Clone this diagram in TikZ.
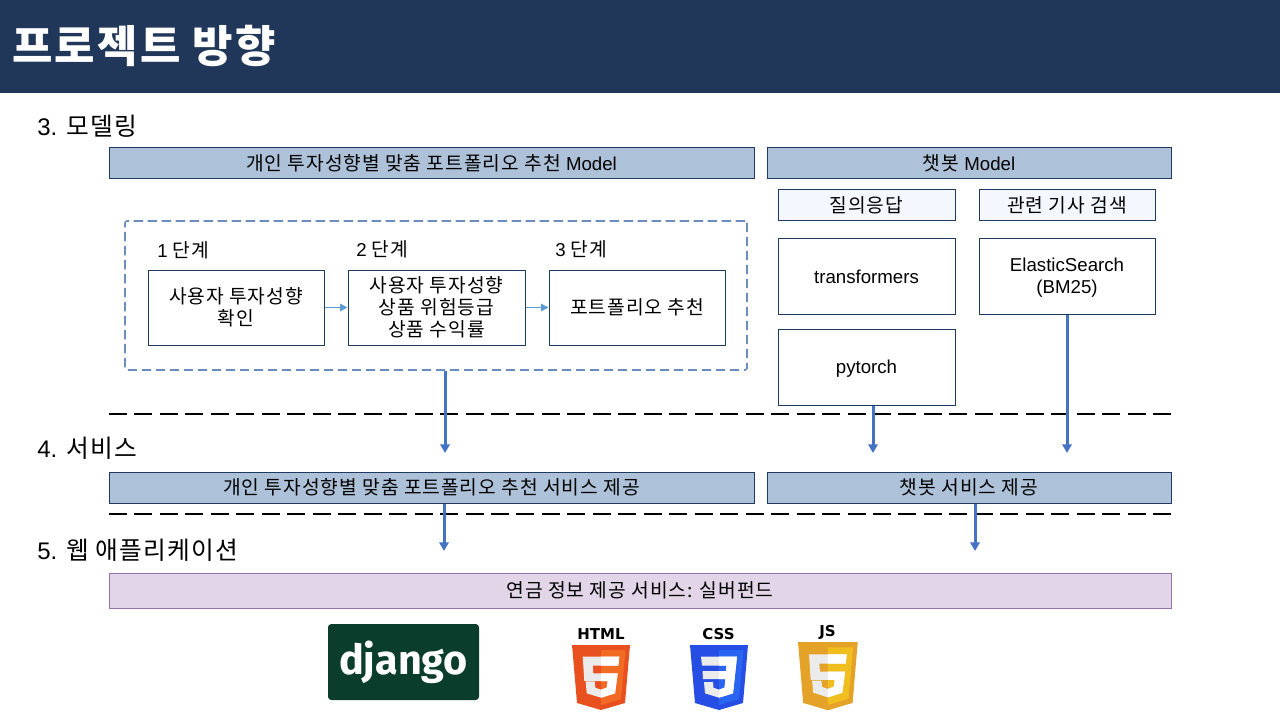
\documentclass[tikz,border=0pt]{standalone}
\usepackage{fontspec}
\usetikzlibrary{arrows.meta}
\setmainfont{Noto Sans CJK KR}[Scale=1.03,LetterSpace=5]
\newfontfamily\la{Liberation Sans}
\newfontfamily\logofont{Fira Sans}
\newfontfamily\tagfont{DejaVu Sans}
\definecolor{headbg}{HTML}{203759}
\definecolor{barbg}{HTML}{ADC2D9}
\definecolor{lineblue}{HTML}{1F3A5F}
\definecolor{arrowblue}{HTML}{4472C4}
\definecolor{thinblue}{HTML}{5B9BD5}
\definecolor{dashblue}{HTML}{6C8EBF}
\definecolor{palebg}{HTML}{F4F7FD}
\definecolor{purplebg}{HTML}{E1D5E7}
\definecolor{purpleln}{HTML}{9673A6}
\definecolor{djangobg}{HTML}{0A3D2B}
\definecolor{htmldark}{HTML}{E8511F}
\definecolor{htmllight}{HTML}{F26B24}
\definecolor{cssdark}{HTML}{264DE4}
\definecolor{csslight}{HTML}{2965F1}
\definecolor{jsdark}{HTML}{E5A228}
\definecolor{jslight}{HTML}{F0BF1F}
\tikzset{
  x=0.75pt,y=-0.75pt,
  txt/.style={font=\fontsize{14}{16.5}\selectfont,align=center,text=black,inner sep=0pt},
  sect/.style={font=\fontsize{18}{20}\selectfont,anchor=west,inner sep=0pt,text=black},
  bar/.style={txt,draw=lineblue,line width=0.75pt,fill=barbg},
  palebox/.style={txt,draw=lineblue,line width=0.75pt,fill=palebg},
  whitebox/.style={txt,draw=lineblue,line width=0.75pt,fill=white},
  purplebar/.style={txt,draw=purpleln,line width=0.75pt,fill=purplebg},
  dashedframe/.style={draw=dashblue,line width=1.2pt,dash pattern=on 7pt off 3.5pt,rounded corners=1.5pt},
  divider/.style={draw=black,line width=1.5pt,dash pattern=on 13.5pt off 5.6pt},
  bigarrow/.style={draw=arrowblue,line width=2.25pt,-{Triangle[length=6.5pt,width=7pt]}},
  thinarrow/.style={draw=thinblue,line width=1pt,-{Triangle[length=5.5pt,width=5.5pt]}},
  tagtxt/.style={font=\tagfont\bfseries\fontsize{11.25}{11.25}\selectfont,inner sep=0pt,text=black},
}
\newcommand{\bx}[6]{% style,name,x1,y1,x2,y2 then text via node
  \node[#1,minimum width={(#5-#3)*0.75pt},minimum height={(#6-#4)*0.75pt}] (#2) at ({(#3+#5)/2},{(#4+#6)/2})}
\newcommand{\fivepoly}{(10.7,11.7)--(47.3,11.7)--(46.3,20.7)--(20.7,20.7)--(21.3,28.3)--(45.7,28.3)--(43,48.3)--(29,52.7)--(14.7,48.3)--(13.7,36.7)--(22.7,36.7)--(23.3,42.7)--(29,44.7)--(34.7,42.7)--(35.7,36)--(12.3,36)--cycle}
\newcommand{\threepoly}{(11,11.7)--(47,11.7)--(43,48.3)--(29,52.7)--(15,48.3)--(14,37)--(23,37)--(23.5,42.7)--(29,44.7)--(34.5,42.7)--(35.5,34)--(13,34)--(12.5,26)--(36,26)--(36.5,20.5)--(12,20.5)--cycle}
\newcommand{\shield}[7]{% x,y,sx,sy,dark,light,glyph
  \begin{scope}[shift={(#1,#2)},x=#3*0.75pt,y=-#4*0.75pt]
    \fill[#5] (0,0)--(58,0)--(53,58)--(29,65)--(5,58)--cycle;
    \fill[#6] (29,5)--(53.5,5)--(49,54)--(29,60)--cycle;
    \fill[black!8] #7;
    \begin{scope}
      \clip (29,0) rectangle (58,65);
      \fill[white] #7;
    \end{scope}
  \end{scope}}
\begin{document}
\begin{tikzpicture}
\useasboundingbox (0,0) rectangle (1280,720);
\fill[headbg] (0,0) rectangle (1280,93);
\node[font=\fontsize{32}{36}\selectfont\bfseries,text=white,anchor=west,inner sep=0pt] (title) at (12,46) {프로젝트 방향};

\node[sect] (s3) at (37,126) {{\la 3.} 모델링};
\node[sect] (s4) at (37,448) {{\la 4.} 서비스};
\node[sect] (s5) at (37,550) {{\la 5.} 웹 애플리케이션};

\bx{bar}{barA}{109}{148}{754}{179} {개인 투자성향별 맞춤 포트폴리오 추천 {\la Model}};
\bx{bar}{barB}{767}{148}{1171}{179} {챗봇 {\la Model}};
\bx{palebox}{qa}{778}{190}{955}{221} {질의응답};
\bx{palebox}{news}{979}{190}{1155}{221} {관련 기사 검색};
\bx{whitebox}{tf}{778}{238.5}{955}{314.5} {\smash{\raisebox{-4.9pt}{\la transformers}}};
\bx{whitebox}{es}{979}{238.5}{1155}{314.5} {\smash{\raisebox{-13.1pt}{\shortstack{\la ElasticSearch\\[3.25pt] \la (BM25)}}}};
\bx{whitebox}{pt}{778}{329}{955}{405} {\smash{\raisebox{-4.9pt}{\la pytorch}}};

\node[dashedframe,minimum width={622*0.75pt},minimum height={149*0.75pt}] (frame) at (436,295.5) {};
\node[txt,anchor=west] (l1) at (157,250) {{\la 1} 단계};
\node[txt,anchor=west] (l2) at (356,249) {{\la 2} 단계};
\node[txt,anchor=west] (l3) at (555,249) {{\la 3} 단계};
\bx{whitebox}{st1}{148}{270}{324}{345} {사용자 투자성향\\확인};
\bx{whitebox}{st2}{348}{270}{525}{345} {사용자 투자성향\\상품 위험등급\\상품 수익률};
\bx{whitebox}{st3}{549}{270}{725}{345} {포트폴리오 추천};
\draw[thinarrow] (st1) -- (st2);
\draw[thinarrow] (st2) -- (st3);

\coordinate (d1a) at (109,413.5);
\coordinate (d1b) at (1171,413.5);
\coordinate (d2a) at (109,514);
\coordinate (d2b) at (1171,514);

\bx{bar}{svcA}{109}{472}{754}{503} {개인 투자성향별 맞춤 포트폴리오 추천 서비스 제공};
\bx{bar}{svcB}{767}{472}{1171}{503} {챗봇 서비스 제공};
\bx{purplebar}{web}{109}{573}{1171}{608} {연금 정보 제공 서비스: 실버펀드};

\coordinate (a1) at (445,453);
\coordinate (a2) at (873,453);
\coordinate (a3) at (1067,453);
\coordinate (a4) at (444,551);
\coordinate (a5) at (975,551);
\draw[divider] (d1a) -- (d1b);
\draw[divider] (d2a) -- (d2b);
\draw[bigarrow] (frame.south -| a1) -- (a1);
\draw[bigarrow] (pt.south -| a2) -- (a2);
\draw[bigarrow] (es.south -| a3) -- (a3);
\draw[bigarrow] (svcA.south -| a4) -- (a4);
\draw[bigarrow] (svcB.south -| a5) -- (a5);

% logos
\node[fill=djangobg,rounded corners=2.5pt,minimum width={151*0.75pt},minimum height={76*0.75pt},inner sep=0pt,text=white,font=\logofont\bfseries\fontsize{31}{31}\selectfont] (django) at (403.5,662) {django};
\shield{572}{645}{1}{1}{htmldark}{htmllight}{\fivepoly}
\shield{690}{645}{1}{1}{cssdark}{csslight}{\threepoly}
\shield{798}{642}{1.03}{1.05}{jsdark}{jslight}{\fivepoly}
\node[tagtxt] (htmltag) at (601,634.5) {HTML};
\node[tagtxt] (csstag) at (718.5,634.5) {CSS};
\node[tagtxt] (jstag) at (827.5,632) {JS};
\end{tikzpicture}
\end{document}
